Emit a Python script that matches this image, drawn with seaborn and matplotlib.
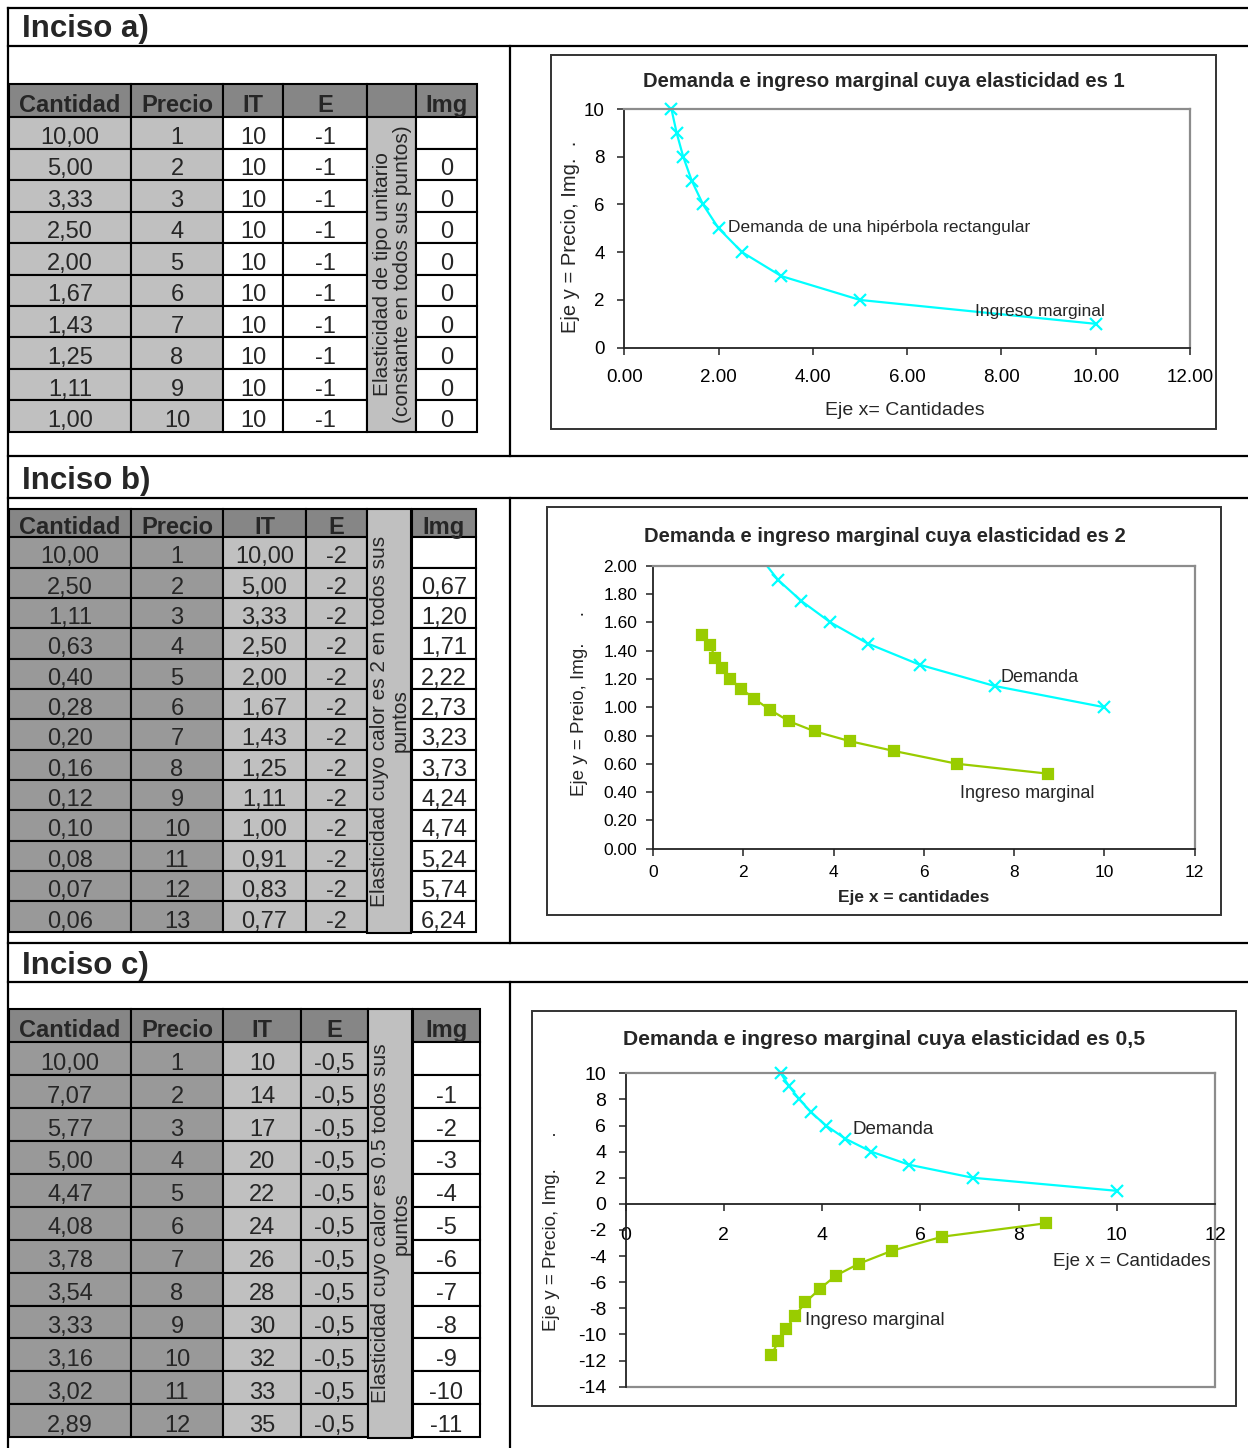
import matplotlib
matplotlib.use("Agg")
import matplotlib.pyplot as plt
import matplotlib.patches as mpatches
from matplotlib.ticker import FormatStrFormatter, MultipleLocator
import seaborn as sns

# ---------------- Inciso a) ----------------
cantidadA = ["10,00", "5,00", "3,33", "2,50", "2,00", "1,67", "1,43", "1,25", "1,11", "1,00"]
precioA = [1, 2, 3, 4, 5, 6, 7, 8, 9, 10]
itA = ["10", "10", "10", "10", "10", "10", "10", "10", "10", "10"]
eA = ["-1", "-1", "-1", "-1", "-1", "-1", "-1", "-1", "-1", "-1"]
imgA = ["", "0", "0", "0", "0", "0", "0", "0", "0", "0"]
demandaXA = [10.00, 5.00, 3.33, 2.50, 2.00, 1.67, 1.43, 1.25, 1.11, 1.00]
notaA = "Elasticidad de tipo unitario\n(constante en todos sus puntos)"

# ---------------- Inciso b) ----------------
cantidadB = ["10,00", "2,50", "1,11", "0,63", "0,40", "0,28", "0,20", "0,16", "0,12",
             "0,10", "0,08", "0,07", "0,06"]
precioB = [1, 2, 3, 4, 5, 6, 7, 8, 9, 10, 11, 12, 13]
itB = ["10,00", "5,00", "3,33", "2,50", "2,00", "1,67", "1,43", "1,25", "1,11",
       "1,00", "0,91", "0,83", "0,77"]
eB = ["-2", "-2", "-2", "-2", "-2", "-2", "-2", "-2", "-2", "-2", "-2", "-2", "-2"]
imgB = ["", "0,67", "1,20", "1,71", "2,22", "2,73", "3,23", "3,73", "4,24",
        "4,74", "5,24", "5,74", "6,24"]
demandaXB = [2.30, 2.77, 3.29, 3.93, 4.76, 5.91, 7.57, 10.00]
demandaYB = [2.09, 1.90, 1.75, 1.60, 1.45, 1.30, 1.15, 1.00]
ingresoXB = [1.08, 1.27, 1.37, 1.53, 1.71, 1.96, 2.24, 2.60, 3.02, 3.58, 4.36, 5.35, 6.74, 8.76]
ingresoYB = [1.51, 1.44, 1.35, 1.28, 1.20, 1.13, 1.06, 0.98, 0.90, 0.83, 0.76, 0.69, 0.60, 0.53]
notaB = "Elasticidad cuyo calor es 2 en todos sus\npuntos"

# ---------------- Inciso c) ----------------
cantidadC = ["10,00", "7,07", "5,77", "5,00", "4,47", "4,08", "3,78", "3,54", "3,33",
             "3,16", "3,02", "2,89"]
precioC = [1, 2, 3, 4, 5, 6, 7, 8, 9, 10, 11, 12]
itC = ["10", "14", "17", "20", "22", "24", "26", "28", "30", "32", "33", "35"]
eC = ["-0,5", "-0,5", "-0,5", "-0,5", "-0,5", "-0,5", "-0,5", "-0,5", "-0,5",
      "-0,5", "-0,5", "-0,5"]
imgC = ["", "-1", "-2", "-3", "-4", "-5", "-6", "-7", "-8", "-9", "-10", "-11"]
demandaXC = [10.00, 7.07, 5.77, 5.00, 4.47, 4.08, 3.78, 3.54, 3.33, 3.16]
demandaYC = [1, 2, 3, 4, 5, 6, 7, 8, 9, 10]
ingresoXC = [2.97, 3.11, 3.27, 3.44, 3.66, 3.95, 4.28, 4.75, 5.43, 6.45, 8.55]
ingresoYC = [-11.57, -10.53, -9.58, -8.62, -7.54, -6.52, -5.49, -4.58, -3.58, -2.51, -1.49]
notaC = "Elasticidad cuyo calor es 0.5 todos sus\npuntos"

W, H = 1248, 1448
CYAN = "#00FFFF"
GREEN = "#99CC00"
HEAD_GREY = "#868686"
DARK_GREY = "#999999"
LIGHT_GREY = "#C0C0C0"
AXIS_DARK = "#222222"
BORDER_GREY = "#8C8C8C"

sns.set_theme(style="white")
plt.rcParams["font.family"] = ["Liberation Sans", "DejaVu Sans"]
plt.rcParams["axes.unicode_minus"] = False

fig = plt.figure(figsize=(W / 100, H / 100), dpi=100)
bg = fig.add_axes([0, 0, 1, 1])
bg.set_xlim(0, W)
bg.set_ylim(H, 0)
bg.axis("off")


def capText(x, y, s, size, **kw):
    # y is the visual middle of the capitals, in pixels from the top
    bg.text(x, y + 0.358 * size * 100 / 72, s, fontsize=size, va="baseline", **kw)


def frameLine(xs, ys):
    bg.plot(xs, ys, color="black", lw=1.6, solid_capstyle="projecting")


def cell(x0, y0, x1, y1, fill):
    bg.add_patch(mpatches.Rectangle((x0, y0), x1 - x0, y1 - y0, facecolor=fill,
                                    edgecolor="black", linewidth=1.5))


def drawTable(edges, imgEdges, yTop, yHead, rowH, columns, fills, nota, notaFromTop, notaBottom):
    headers = ["Cantidad", "Precio", "IT", "E"]
    for i, name in enumerate(headers):
        x0, x1 = edges[i], edges[i + 1]
        cell(x0, yTop, x1, yHead, HEAD_GREY)
        capText((x0 + x1) / 2, (yTop + yHead) / 2 + 2.5, name, 17, ha="center", fontweight="bold")
        for r, val in enumerate(columns[i]):
            y0 = yHead + r * rowH
            cell(x0, y0, x1, y0 + rowH, fills[i])
            capText((x0 + x1) / 2, y0 + rowH / 2 + 2.5, str(val), 17, ha="center")
    x0, x1 = edges[4], edges[5]
    if notaFromTop:
        cell(x0, yTop, x1, notaBottom, LIGHT_GREY)
        yc = (yTop + notaBottom) / 2
    else:
        cell(x0, yTop, x1, yHead, HEAD_GREY)
        cell(x0, yHead, x1, notaBottom, LIGHT_GREY)
        yc = (yHead + notaBottom) / 2
    bg.text((x0 + x1) / 2 + 1, yc, nota, fontsize=15, rotation=90, ha="center", va="center",
            multialignment="center", linespacing=1.1)
    x0, x1 = imgEdges
    cell(x0, yTop, x1, yHead, HEAD_GREY)
    capText((x0 + x1) / 2, (yTop + yHead) / 2 + 2.5, "Img", 17, ha="center", fontweight="bold")
    for r, val in enumerate(columns[4]):
        y0 = yHead + r * rowH
        cell(x0, y0, x1, y0 + rowH, "white")
        capText((x0 + x1) / 2, y0 + rowH / 2 + 2.5, val, 17, ha="center")


def chartAxes(x0, y0, x1, y1):
    return fig.add_axes([x0 / W, 1 - y1 / H, (x1 - x0) / W, (y1 - y0) / H])


def styleChart(ax, size, xPad, yPad):
    for side in ("top", "right"):
        ax.spines[side].set_color(BORDER_GREY)
        ax.spines[side].set_linewidth(1.6)
    for side in ("left", "bottom"):
        ax.spines[side].set_color(AXIS_DARK)
        ax.spines[side].set_linewidth(1.3)
    ax.tick_params(axis="both", direction="out", length=5, width=1.1, color=AXIS_DARK,
                   labelcolor="black", labelsize=size)
    ax.tick_params(axis="x", pad=xPad, bottom=True)
    ax.tick_params(axis="y", pad=yPad, left=True)
    ax.set_xlabel("")
    ax.set_ylabel("")


def seriesLine(ax, xs, ys, color, marker, msize, clip):
    sns.lineplot(x=xs, y=ys, ax=ax, color=color, marker=marker, markersize=msize,
                 markeredgewidth=1.6, markeredgecolor=color, markerfacecolor=color,
                 linewidth=1.6, sort=False, estimator=None, clip_on=clip)


# ---------------- marco general ----------------
frameLine([8, 8], [8, H])
for yLine in (8, 46, 456, 498, 943, 982):
    frameLine([8, W], [yLine, yLine])
frameLine([510, 510], [46, 456])
frameLine([510, 510], [498, 943])
frameLine([510, 510], [982, H])

capText(22, 26, "Inciso a)", 22.5, ha="left", fontweight="bold")
capText(22, 478, "Inciso b)", 22.5, ha="left", fontweight="bold")
capText(22, 963, "Inciso c)", 22.5, ha="left", fontweight="bold")

# ---------------- tablas ----------------
drawTable([9, 131, 223, 283, 367, 416], (416, 477), 84, 117.3, 31.45,
          [cantidadA, precioA, itA, eA, imgA], [LIGHT_GREY, LIGHT_GREY, "white", "white"],
          notaA, False, 117.3 + 31.45 * len(cantidadA))
drawTable([9, 131, 223, 306, 367, 411], (412, 476), 509, 537.3, 30.34,
          [cantidadB, precioB, itB, eB, imgB], [DARK_GREY, DARK_GREY, LIGHT_GREY, LIGHT_GREY],
          notaB, True, 933)
drawTable([9, 131, 223, 301, 368, 412], (413, 480), 1009, 1042.3, 32.9,
          [cantidadC, precioC, itC, eC, imgC], [DARK_GREY, DARK_GREY, LIGHT_GREY, LIGHT_GREY],
          notaC, True, 1438)

# ---------------- cajas de graficos ----------------
for (bx0, by0, bx1, by1) in ((551, 55, 1216, 429), (547, 507, 1221, 915), (532, 1011, 1236, 1406)):
    bg.add_patch(mpatches.Rectangle((bx0, by0), bx1 - bx0, by1 - by0, facecolor="none",
                                    edgecolor="#333333", linewidth=1.4))

# ---------------- grafico a) ----------------
axA = chartAxes(624.3, 109, 1190, 347.7)
seriesLine(axA, demandaXA, precioA, CYAN, "x", 9, False)
axA.set_xlim(0, 12)
axA.set_ylim(0, 10)
axA.xaxis.set_major_locator(MultipleLocator(2))
axA.yaxis.set_major_locator(MultipleLocator(2))
axA.xaxis.set_major_formatter(FormatStrFormatter("%.2f"))
styleChart(axA, 13.5, 10, 9)
axA.text(2.20, 5.11, "Demanda de una hipérbola rectangular", fontsize=12.5, ha="left", va="center_baseline")
axA.text(7.44, 1.58, "Ingreso marginal", fontsize=12.5, ha="left", va="center_baseline")
capText(883.5, 80, "Demanda e ingreso marginal cuya elasticidad es 1", 14.5, ha="center", fontweight="bold")
capText(905, 408, "Eje x= Cantidades", 14, ha="center")
bg.text(570, 237, "Eje y = Precio, Img.  .", fontsize=14.5, rotation=90, ha="center", va="center")

# ---------------- grafico b) ----------------
axB = chartAxes(653, 565.7, 1194.5, 848.7)
seriesLine(axB, demandaXB, demandaYB, CYAN, "x", 9, True)
seriesLine(axB, ingresoXB, ingresoYB, GREEN, "s", 6.5, False)
axB.set_xlim(0, 12)
axB.set_ylim(0, 2)
axB.xaxis.set_major_locator(MultipleLocator(2))
axB.yaxis.set_major_locator(MultipleLocator(0.2))
axB.yaxis.set_major_formatter(FormatStrFormatter("%.2f"))
styleChart(axB, 12.5, 7, 6.5)
axB.text(7.70, 1.227, "Demanda", fontsize=13, ha="left", va="center_baseline")
axB.text(6.81, 0.403, "Ingreso marginal", fontsize=13, ha="left", va="center_baseline")
capText(884.5, 535, "Demanda e ingreso marginal cuya elasticidad es 2", 14.5, ha="center", fontweight="bold")
capText(913.5, 896, "Eje x = cantidades", 12.5, ha="center", fontweight="bold")
bg.text(580, 703, "Eje y = Preio, Img.     .", fontsize=13.5, rotation=90, ha="center", va="center")

# ---------------- grafico c) ----------------
axC = chartAxes(625.6, 1073.3, 1215, 1386.7)
seriesLine(axC, demandaXC, demandaYC, CYAN, "x", 9, False)
seriesLine(axC, ingresoXC, ingresoYC, GREEN, "s", 7, False)
axC.set_xlim(0, 12)
axC.set_ylim(-14, 10)
axC.xaxis.set_major_locator(MultipleLocator(2))
axC.yaxis.set_major_locator(MultipleLocator(2))
styleChart(axC, 14, 12, 9)
axC.spines["bottom"].set_position(("data", 0))
axC.axhline(-14, color=BORDER_GREY, lw=1.6, clip_on=False)
axC.text(4.61, 5.86, "Demanda", fontsize=13.5, ha="left", va="center_baseline")
axC.text(3.66, -8.79, "Ingreso marginal", fontsize=13.5, ha="left", va="center_baseline")
axC.text(8.71, -4.27, "Eje x = Cantidades", fontsize=13.5, ha="left", va="center_baseline")
capText(884.5, 1037, "Demanda e ingreso marginal cuya elasticidad es 0,5", 15.2, ha="center", fontweight="bold")
bg.text(551, 1231, "Eje y = Precio, Img.      .", fontsize=13.5, rotation=90, ha="center", va="center")

fig.savefig("out.png", dpi=100)
